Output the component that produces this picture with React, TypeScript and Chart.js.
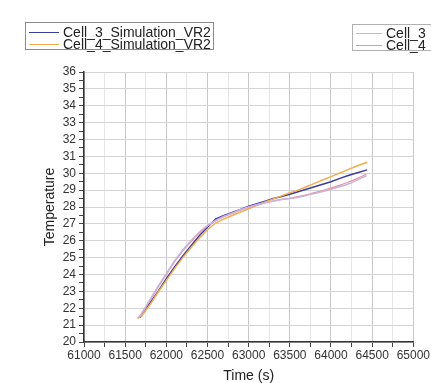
import React, { useEffect, useRef } from "react";
import { Chart, registerables } from "chart.js";

Chart.register(...registerables);

// Cell_3_Simulation_VR2
const timeSim3 = [61680, 61800, 61900, 62000, 62100, 62200, 62300, 62400, 62500, 62600, 62700, 62800, 62900, 63000, 63100, 63200, 63300, 63400, 63500, 63600, 63700, 63800, 63900, 64000, 64100, 64200, 64300, 64440];
const tempSim3 = [21.45, 22.3, 23.0, 23.75, 24.45, 25.1, 25.7, 26.3, 26.8, 27.3, 27.5, 27.68, 27.85, 28.05, 28.2, 28.35, 28.5, 28.62, 28.76, 28.9, 29.05, 29.2, 29.35, 29.5, 29.68, 29.85, 30.0, 30.2];

// Cell_4_Simulation_VR2
const timeSim4 = [61650, 61700, 61800, 61900, 62000, 62100, 62200, 62300, 62400, 62500, 62600, 62700, 62800, 62900, 63000, 63100, 63200, 63300, 63400, 63500, 63600, 63700, 63800, 63900, 64000, 64100, 64200, 64300, 64440];
const tempSim4 = [21.4, 21.55, 22.2, 22.95, 23.65, 24.35, 25.0, 25.6, 26.15, 26.65, 27.05, 27.3, 27.5, 27.7, 27.9, 28.1, 28.3, 28.48, 28.66, 28.84, 29.0, 29.2, 29.4, 29.6, 29.8, 30.0, 30.2, 30.4, 30.67];

// Cell_3 (experiment)
const timeExp3 = [61660, 61700, 61800, 61900, 62000, 62100, 62200, 62300, 62400, 62500, 62600, 62700, 62800, 62900, 63000, 63100, 63200, 63300, 63400, 63500, 63600, 63700, 63800, 63900, 64000, 64100, 64200, 64300, 64430];
const tempExp3 = [21.45, 21.7, 22.5, 23.3, 24.05, 24.8, 25.45, 26.0, 26.5, 26.9, 27.2, 27.45, 27.65, 27.85, 28.0, 28.15, 28.26, 28.36, 28.44, 28.5, 28.58, 28.68, 28.8, 28.92, 29.05, 29.2, 29.35, 29.55, 29.85];

// Cell_4 (experiment)
const timeExp4 = [61660, 61700, 61800, 61900, 62000, 62100, 62200, 62300, 62400, 62500, 62600, 62700, 62800, 62900, 63000, 63100, 63200, 63300, 63400, 63500, 63600, 63700, 63800, 63900, 64000, 64100, 64200, 64300, 64430];
const tempExp4 = [21.4, 21.65, 22.45, 23.25, 24.0, 24.75, 25.4, 25.95, 26.45, 26.88, 27.18, 27.42, 27.62, 27.82, 27.98, 28.12, 28.24, 28.35, 28.45, 28.52, 28.62, 28.72, 28.85, 28.98, 29.12, 29.28, 29.45, 29.65, 29.95];

const xTicksMin = 61000;
const xTicksMax = 65000;
const yTicksMin = 20;
const yTicksMax = 36;

const COLORS = {
  sim3: "#3d3d9e",
  sim4: "#f2ad4e",
  exp3: "#c9b2dc",
  exp4: "#e9919f",
};

const pts = (xs: number[], ys: number[]) => xs.map((x, i) => ({ x, y: ys[i] }));

const FONT = "'Liberation Sans', Arial, sans-serif";

export default function App() {
  const ref = useRef<HTMLCanvasElement | null>(null);

  useEffect(() => {
    document.body.style.margin = "0";
    const canvas = ref.current!;
    const chart = new Chart(canvas, {
      type: "line",
      data: {
        datasets: [
          { label: "Cell_3", data: pts(timeExp3, tempExp3), borderColor: COLORS.exp3, borderWidth: 1.5, pointRadius: 0, tension: 0.3 },
          { label: "Cell_4", data: pts(timeExp4, tempExp4), borderColor: COLORS.exp4, borderWidth: 1.2, pointRadius: 0, tension: 0.3 },
          { label: "Cell_4_Simulation_VR2", data: pts(timeSim4, tempSim4), borderColor: COLORS.sim4, borderWidth: 1.5, pointRadius: 0, tension: 0 },
          { label: "Cell_3_Simulation_VR2", data: pts(timeSim3, tempSim3), borderColor: COLORS.sim3, borderWidth: 1.5, pointRadius: 0, tension: 0 },
        ],
      },
      options: {
        animation: false,
        responsive: false,
        maintainAspectRatio: false,
        layout: { padding: { left: 0, right: 16, top: 72, bottom: 0 } },
        plugins: { legend: { display: false }, tooltip: { enabled: false } },
        scales: {
          x: {
            type: "linear",
            min: xTicksMin,
            max: xTicksMax,
            afterFit: (s: any) => { s.height = 41; },
            border: { color: "#333", width: 1.5 },
            grid: {
              color: (c: any) => (c.tick && c.tick.value % 500 === 0 ? "#c8c8c8" : "#e6e6e6"),
              tickColor: "#444",
              tickLength: 5,
            },
            ticks: {
              stepSize: 250,
              autoSkip: false,
              maxRotation: 0,
              padding: 1,
              color: "#333",
              font: { family: FONT, size: 12 },
              callback: (v: any) => (Number(v) % 500 === 0 ? String(v) : ""),
            },
            title: {
              display: true,
              text: "Time (s)",
              color: "#222",
              font: { family: FONT, size: 14, lineHeight: 1 },
              padding: { top: 0, bottom: 0 },
            },
          },
          y: {
            type: "linear",
            min: yTicksMin,
            max: yTicksMax,
            afterFit: (s: any) => { s.width = 84; },
            border: { color: "#333", width: 1.5 },
            grid: {
              color: (c: any) => (c.tick && Number.isInteger(c.tick.value) ? "#d4d4d4" : "rgba(0,0,0,0)"),
              tickColor: "#444",
              tickLength: 5,
            },
            ticks: {
              stepSize: 0.5,
              autoSkip: false,
              padding: 3,
              color: "#333",
              font: { family: FONT, size: 12 },
              callback: (v: any) => (Number.isInteger(Number(v)) ? String(v) : ""),
            },
            title: {
              display: true,
              text: "Temperature",
              color: "#222",
              font: { family: FONT, size: 14, lineHeight: 1 },
              padding: { top: 43, bottom: 0 },
            },
          },
        },
      },
    });
    return () => chart.destroy();
  }, []);

  const legendRow = (color: string, text: string, lineW: number) => (
    <div style={{ display: "flex", alignItems: "center", height: 12, whiteSpace: "nowrap" }}>
      <div style={{ width: lineW, height: 0, borderTop: `1.5px solid ${color}`, marginRight: 4 }} />
      <span>{text}</span>
    </div>
  );

  return (
    <div style={{ position: "fixed", left: 0, top: 0, width: 431, height: 383, overflow: "hidden", background: "#fff" }}>
      <canvas ref={ref} width={431} height={383} style={{ display: "block", width: 431, height: 383 }} />
      <div
        style={{
          position: "absolute", left: 25, top: 22, width: 189, height: 28,
          border: "1px solid #8a8a8a", boxSizing: "border-box", padding: "3px 0 0 3px",
          fontFamily: FONT, fontSize: 14, color: "#222", lineHeight: "12px",
        }}
      >
        {legendRow(COLORS.sim3, "Cell_3_Simulation_VR2", 30)}
        {legendRow(COLORS.sim4, "Cell_4_Simulation_VR2", 30)}
      </div>
      <div
        style={{
          position: "absolute", left: 352, top: 24, width: 90, height: 27,
          border: "1px solid #b0b0b0", boxSizing: "border-box", padding: "2px 0 0 3px",
          fontFamily: FONT, fontSize: 14, color: "#222", lineHeight: "12px",
        }}
      >
        {legendRow(COLORS.exp3, "Cell_3", 26)}
        {legendRow(COLORS.exp4, "Cell_4", 26)}
      </div>
    </div>
  );
}
